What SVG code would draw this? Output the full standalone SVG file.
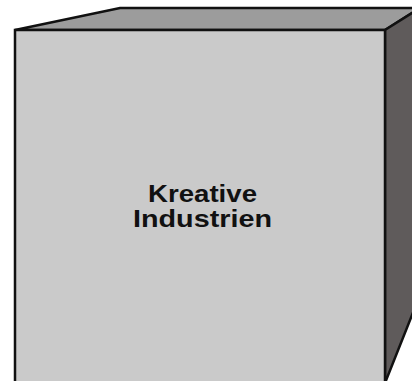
<svg xmlns="http://www.w3.org/2000/svg" width="412" height="381" viewBox="0 0 412 381">
<style>
.edge{stroke:#111;stroke-width:2.5;stroke-linejoin:miter}
.lbl{font-family:"Liberation Sans",Arial,sans-serif;font-weight:bold;font-size:24px;fill:#111;text-anchor:middle}
</style>
<rect width="412" height="381" fill="#fff"/>
<g id="cube">
<polygon class="edge" points="15,30 120,8 420,8 385,30" fill="#9c9c9c"/>
<polygon class="edge" points="385,30 420,8 420,295 385,383" fill="#5f5b5b"/>
<polygon class="edge" points="15,30 385,30 385,385 15,385" fill="#cacaca"/>
</g>
<g id="label">
<text class="lbl" x="202.5" y="201.5" textLength="109" lengthAdjust="spacingAndGlyphs">Kreative</text>
<text class="lbl" x="202.5" y="226.5" textLength="139" lengthAdjust="spacingAndGlyphs">Industrien</text>
</g>
</svg>
